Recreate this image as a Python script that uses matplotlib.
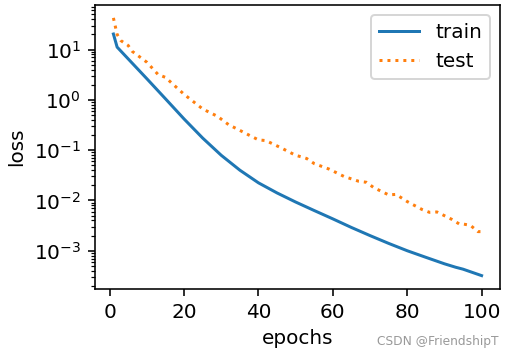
import matplotlib
matplotlib.use('Agg')
import matplotlib.pyplot as plt

# 读图得到的数据（log 坐标）
train_epochs = [1, 2, 10, 15, 20, 25, 30, 35, 40, 45, 50, 55, 60, 65, 70, 75, 80, 85,
                90, 93, 95, 100]
train_loss = [20.4, 11.2, 2.63, 1.05, 0.417, 0.174, 0.079, 0.040, 0.0224, 0.0141, 0.0093,
              0.0063, 0.0043, 0.0029, 0.002, 0.0014, 0.001, 0.00074, 0.00055, 0.00047,
              0.00043, 0.00032]

test_epochs = [1, 2, 3, 5, 6, 10, 13, 15, 20, 25, 29, 32, 34, 38, 40, 42, 46, 50, 52, 53,
               55, 59, 63, 67, 69, 71, 75, 77, 80, 84, 86, 88, 92, 94, 95, 97, 99, 100]
test_loss = [42.7, 20.0, 15.1, 12.0, 9.3, 5.6, 3.2, 2.8, 1.29, 0.66, 0.47, 0.32, 0.27, 0.19,
             0.16, 0.155, 0.112, 0.079, 0.072, 0.068, 0.054, 0.042, 0.030, 0.024, 0.023,
             0.018, 0.0129, 0.0132, 0.0095, 0.0066, 0.0058, 0.0059, 0.0042, 0.0034, 0.0034,
             0.0032, 0.0024, 0.0024]

plt.rcParams['font.size'] = 10

fig = plt.figure(figsize=(514 / 144, 357 / 144), dpi=144)
ax = fig.add_axes([95 / 514, 1 - 288.5 / 357, 405 / 514, 283.5 / 357])

ax.plot(train_epochs, train_loss, '-', color='#1f77b4', label='train')
ax.plot(test_epochs, test_loss, ':', color='#ff7f0e', label='test')
ax.set_yscale('log')
ax.set_xlabel('epochs')
ax.set_ylabel('loss')
ax.legend(loc='upper right')

fig.text(0.969, 0.034, 'CSDN @FriendshipT', fontsize=6.1, color='#999999', ha='right')

fig.savefig('out.png', dpi=144)
